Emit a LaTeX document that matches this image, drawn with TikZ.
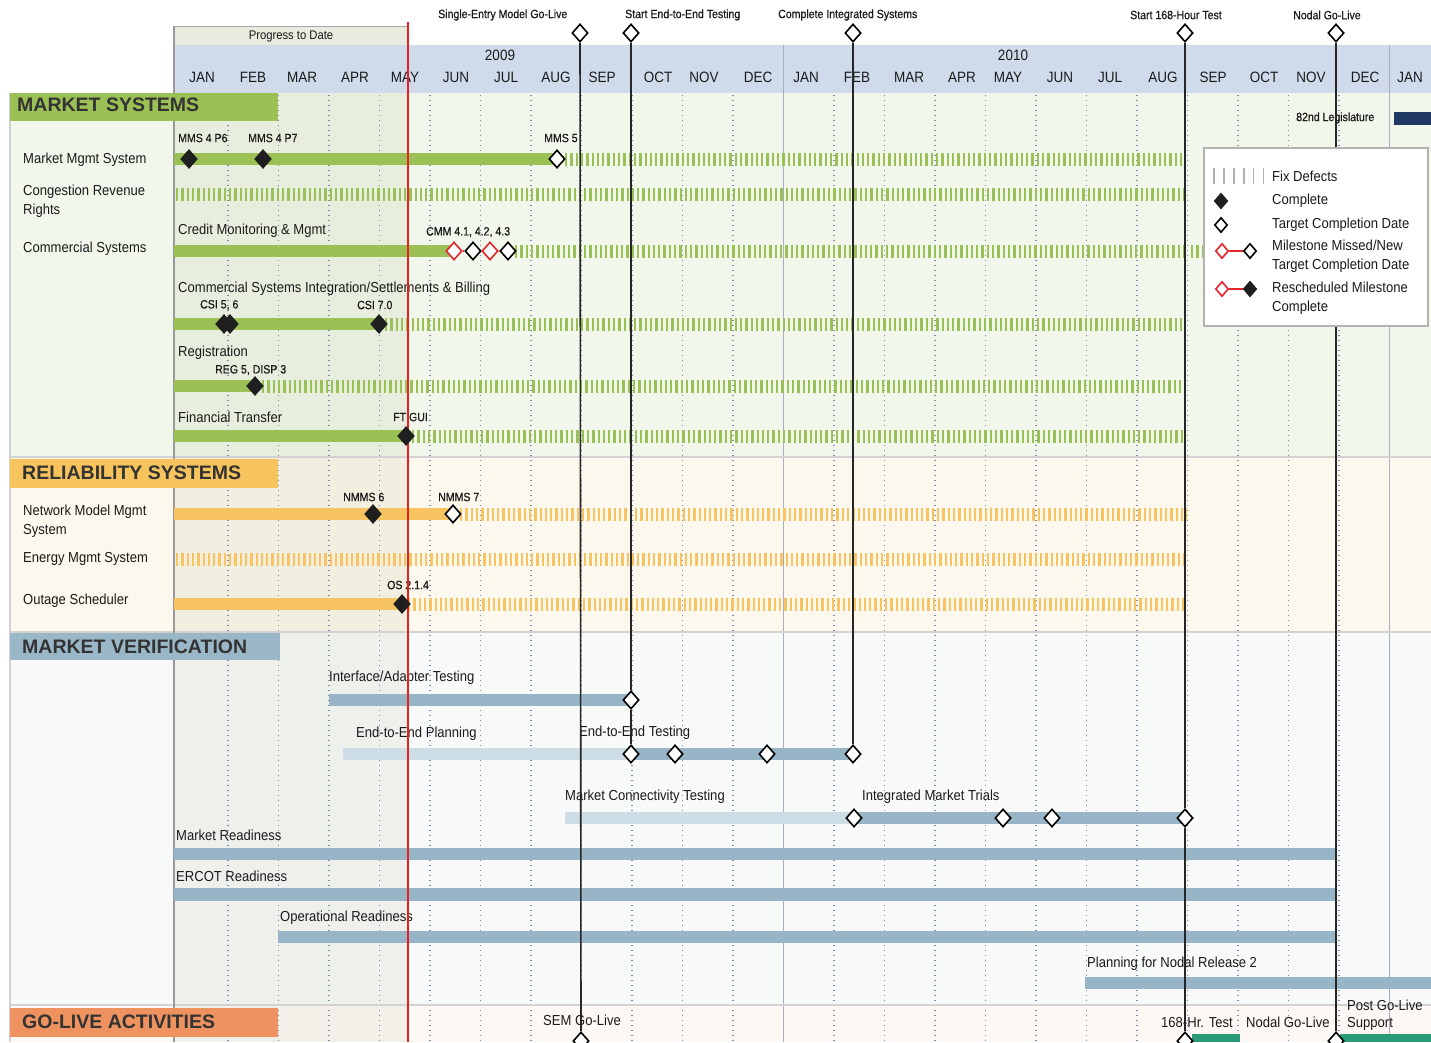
\documentclass[tikz,border=0pt]{standalone}
\usepackage{fontspec}
\setmainfont{Liberation Sans}[FakeStretch=0.9]
\newfontfamily\secfont{Liberation Sans}
\newfontfamily\milfont{Liberation Sans}[FakeStretch=0.88,FakeBold=0.6]
\usetikzlibrary{shapes.geometric}
\newcommand{\myfs}[1]{\fontsize{#1}{#1}\selectfont}
\definecolor{msgreen}{HTML}{9BC156}
\definecolor{msbg}{HTML}{F2F7EC}
\definecolor{msprog}{HTML}{E8EEDD}
\definecolor{rsyel}{HTML}{F8C462}
\definecolor{rshead}{HTML}{F6C35C}
\definecolor{rsbg}{HTML}{FDF8EE}
\definecolor{rsprog}{HTML}{F3EFE0}
\definecolor{mvbar}{HTML}{97B5C6}
\definecolor{mvlight}{HTML}{CCDDE6}
\definecolor{mvhead}{HTML}{9AB7C8}
\definecolor{mvbg}{HTML}{F8FAFA}
\definecolor{mvprog}{HTML}{EEF0EC}
\definecolor{glhead}{HTML}{EE925F}
\definecolor{glbg}{HTML}{FDF8F4}
\definecolor{glprog}{HTML}{F3F0EA}
\definecolor{golteal}{HTML}{2A9A78}
\definecolor{legnavy}{HTML}{1F3864}
\definecolor{hdrblue}{HTML}{CFDBEA}
\definecolor{progbox}{HTML}{E9EBDF}
\definecolor{gridc}{HTML}{7D8AAD}
\definecolor{txt}{HTML}{1A1A1A}
\definecolor{sectxt}{HTML}{333333}
\definecolor{sepc}{HTML}{D2D2D2}
\definecolor{yearln}{HTML}{A8AFC0}
\definecolor{progred}{HTML}{E8201E}
\definecolor{missred}{HTML}{E4262A}
\begin{document}
\begin{tikzpicture}[x=1pt,y=-1pt,
  lab/.style={anchor=west,inner sep=0pt,text=txt,font=\myfs{14.5}},
  mil/.style={anchor=west,inner sep=0pt,text=txt,font=\milfont\myfs{12}},
  toplab/.style={anchor=west,inner sep=0pt,text=txt,font=\myfs{12.5}},
  mon/.style={inner sep=0pt,text=txt,font=\myfs{15}},
  sec/.style={anchor=west,inner sep=0pt,text=sectxt,font=\secfont\bfseries\myfs{19.5}},
  dia/.style={diamond,draw=black,line width=1.6pt,fill=white,minimum width=16pt,minimum height=18pt,inner sep=0pt},
  fdia/.style={dia,fill=black!88,draw=black!88},
  rdia/.style={dia,draw=missred},
  ldia/.style={dia,minimum width=13pt,minimum height=15pt},
  mline/.style={draw=black!85,line width=1.6pt},
  hatchG/.style={draw=msgreen,line width=13pt,dash pattern=on 2.3pt off 3pt},
  hatchY/.style={draw=rsyel,line width=13pt,dash pattern=on 2.3pt off 3pt},
  grid/.style={draw=gridc,line width=1.4pt,dash pattern=on 1.4pt off 3.6pt},
  missline/.style={draw=missred,line width=2.2pt}]
\useasboundingbox (0,0) rectangle (1431,1042);
\clip (0,0) rectangle (1431,1042);
\fill[white] (0,0) rectangle (1431,1042);
% ---------- section backgrounds
\fill[msbg] (10,93) rectangle (1431,457);
\fill[msprog] (174,93) rectangle (408,457);
\fill[rsbg] (10,457) rectangle (1431,632);
\fill[rsprog] (174,457) rectangle (408,632);
\fill[mvbg] (10,632) rectangle (1431,1005);
\fill[mvprog] (174,632) rectangle (408,1005);
\fill[glbg] (10,1005) rectangle (1431,1042);
\fill[glprog] (174,1005) rectangle (408,1042);
% ---------- header
\fill[progbox] (174,26) rectangle (408,45);
\fill[hdrblue] (174,45) rectangle (1431,93);
\draw[black!35,line width=1pt] (174,26) -- (408,26);
\node[toplab,anchor=center] (ptd) at (291,36) {Progress to Date};
\node[mon] (y09) at (500,55) {2009};
\node[mon] (y10) at (1013,55) {2010};
\foreach \m/\x [count=\i] in {JAN/202,FEB/253,MAR/302,APR/355,MAY/405,JUN/456,JUL/506,AUG/556,SEP/602,OCT/658,NOV/704,DEC/758,JAN/806,FEB/857,MAR/909,APR/962,MAY/1008,JUN/1060,JUL/1110,AUG/1163,SEP/1213,OCT/1264,NOV/1311,DEC/1365,JAN/1410}
  \node[mon] (mon\i) at (\x,77) {\m};
% ---------- grid
\foreach \k in {1,...,11,13,14,...,23}
  \draw[grid] ({177.5+50.5*\k},95) -- ({177.5+50.5*\k},1042);
\foreach \k in {12,24}
  \draw[yearln,line width=1.3pt] ({177.5+50.5*\k},45) -- ({177.5+50.5*\k},1042);
% ---------- separators and borders
\foreach \yy in {457,632,1005}
  \draw[sepc,line width=1.6pt] (10,\yy) -- (1431,\yy);
\draw[sepc,line width=1.6pt] (10,93) -- (10,1042);
\draw[black!40,line width=1.4pt] (174,26) -- (174,1042);
% ---------- section headers
\fill[msgreen] (10,93) rectangle (278,121);
\node[sec] (hMS) at (17,105) {MARKET SYSTEMS};
\fill[rshead] (10,459) rectangle (278,488);
\node[sec] (hRS) at (22,473) {RELIABILITY SYSTEMS};
\fill[mvhead] (10,633) rectangle (280,660);
\node[sec] (hMV) at (22,647) {MARKET VERIFICATION};
\fill[glhead] (10,1008) rectangle (278,1037);
\node[sec] (hGL) at (22,1022) {GO-LIVE ACTIVITIES};
% ---------- row labels (left column)
\node[lab] (lMMS) at (23,160) {Market Mgmt System};
\node[lab,align=left] (lCRR) at (23,201) {Congestion Revenue\\[4pt]Rights};
\node[lab] (lCS) at (23,249) {Commercial Systems};
\node[lab,align=left] (lNMMS) at (23,521) {Network Model Mgmt\\[4pt]System};
\node[lab] (lEMS) at (23,559) {Energy Mgmt System};
\node[lab] (lOS) at (23,601) {Outage Scheduler};
% ---------- Market systems bars
\fill[msgreen] (174,153) rectangle (557,165);
\draw[hatchG] (565,159) -- (1185,159);
\draw[hatchG] (176,194) -- (1185,194);
\fill[msgreen] (174,245) rectangle (454,257);
\draw[hatchG] (515,251) -- (1185,251);
\draw[hatchG] (1191,251) -- (1202,251);
\fill[msgreen] (174,318) rectangle (379,330);
\draw[hatchG] (385,324) -- (1185,324);
\fill[msgreen] (174,380) rectangle (255,392);
\draw[hatchG] (262,386) -- (1185,386);
\fill[msgreen] (174,430) rectangle (406,442);
\draw[hatchG] (412,436) -- (1185,436);
% ---------- Reliability bars
\fill[rsyel] (174,508) rectangle (453,520);
\draw[hatchY] (460,514) -- (1187,514);
\draw[hatchY] (176,559) -- (1187,559);
\fill[rsyel] (174,598) rectangle (402,610);
\draw[hatchY] (408,604) -- (1187,604);
% ---------- Market verification bars
\fill[mvbar] (329,694) rectangle (631,706);
\fill[mvlight] (343,748) rectangle (631,760);
\fill[mvbar] (631,748) rectangle (853,760);
\fill[mvlight] (565,812) rectangle (853,824);
\fill[mvbar] (853,812) rectangle (1185,824);
\fill[mvbar] (174,848) rectangle (1336,860);
\fill[mvbar] (174,888) rectangle (1336,901);
\fill[mvbar] (278,931) rectangle (1336,943);
\fill[mvbar] (1085,977) rectangle (1431,989);
% ---------- Go-live bars
\fill[golteal] (1192,1034) rectangle (1240,1042);
\fill[golteal] (1340,1034) rectangle (1431,1042);
% ---------- 82nd legislature
\node[mil] (leg) at (1296,118) {82nd Legislature};
\fill[legnavy] (1394,112) rectangle (1431,125);
% ---------- bar titles and milestone labels
\node[mil] (tP6) at (178,138) {MMS 4 P6};
\node[mil] (tP7) at (248,138) {MMS 4 P7};
\node[mil] (tM5) at (544,138) {MMS 5};
\node[lab] (tCMg) at (178,231) {Credit Monitoring \& Mgmt};
\node[mil] (tCMM) at (426,232) {CMM 4.1, 4.2, 4.3};
\node[lab] (tCSI) at (178,289) {Commercial Systems Integration/Settlements \& Billing};
\node[mil] (tC56) at (200,305) {CSI 5, 6};
\node[mil] (tC7) at (357,305) {CSI 7.0};
\node[lab] (tReg) at (178,353) {Registration};
\node[mil] (tR5) at (215,370) {REG 5, DISP 3};
\node[lab] (tFT) at (178,417) {Financial Transfer};
\node[mil] (tFG) at (393,417) {FT GUI};
\node[mil] (tN6) at (343,497) {NMMS 6};
\node[mil] (tN7) at (438,497) {NMMS 7};
\node[mil] (tOS) at (387,585) {OS 2.1.4};
\node[lab] (tIA) at (329,678) {Interface/Adapter Testing};
\node[lab] (tEP) at (356,734) {End-to-End Planning};
\node[lab] (tET) at (579,733) {End-to-End Testing};
\node[lab] (tMC) at (565,797) {Market Connectivity Testing};
\node[lab] (tIM) at (862,797) {Integrated Market Trials};
\node[lab] (tMR) at (176,835) {Market Readiness};
\node[lab] (tER) at (176,876) {ERCOT Readiness};
\node[lab] (tOR) at (280,918) {Operational Readiness};
\node[lab] (tPN) at (1087,964) {Planning for Nodal Release 2};
\node[lab] (tSG) at (543,1020) {SEM Go-Live};
\node[lab] (t168) at (1161,1022) {168-Hr. Test};
\node[lab] (tNG) at (1246,1022) {Nodal Go-Live};
\node[lab,align=left] (tPG) at (1347,1015) {Post Go-Live\\[3pt]Support};
% ---------- top milestone labels
\node[mil] (lSEM) at (438,15) {Single-Entry Model Go-Live};
\node[mil] (lE2E) at (625,15) {Start End-to-End Testing};
\node[mil] (lCIS) at (778,15) {Complete Integrated Systems};
\node[mil] (l168) at (1130,15) {Start 168-Hour Test};
\node[mil] (lNGL) at (1293,15) {Nodal Go-Live};
% ---------- progress line
\draw[progred,line width=1.6pt] (408,22) -- (408,1042);
% ---------- milestone diamonds
\node[fdia] (dP6) at (189,159) {};
\node[fdia] (dP7) at (263,159) {};
\node[dia] (dM5) at (557,159) {};
\node[rdia] (dC1) at (454,251) {};
\node[dia] (dC2) at (473,251) {};
\node[rdia] (dC3) at (490,251) {};
\node[dia] (dC4) at (508,251) {};
\draw[missline] (dC1) -- (dC2);
\draw[missline] (dC3) -- (dC4);
\node[fdia] (dC5) at (224,324) {};
\node[fdia] (dC6) at (230,324) {};
\node[fdia] (dC7) at (379,324) {};
\node[fdia] (dR5) at (255,386) {};
\node[fdia] (dFG) at (406,436) {};
\node[fdia] (dN6) at (373,514) {};
\node[dia] (dN7) at (453,514) {};
\node[fdia] (dOS) at (402,604) {};
\node[dia] (dIA) at (631,700) {};
\node[dia] (dE1) at (631,754) {};
\node[dia] (dE2) at (675,754) {};
\node[dia] (dE3) at (767,754) {};
\node[dia] (dE4) at (853,754) {};
\node[dia] (dI1) at (854,818) {};
\node[dia] (dI2) at (1003,818) {};
\node[dia] (dI3) at (1052,818) {};
\node[dia] (dI4) at (1185,818) {};
\node[dia] (gSEM) at (581,1041) {};
\node[dia] (g168) at (1185,1041) {};
\node[dia] (gNGL) at (1336,1041) {};
% top diamonds
\node[dia] (mSEM) at (580,33) {};
\node[dia] (mE2E) at (631,33) {};
\node[dia] (mCIS) at (853,33) {};
\node[dia] (m168) at (1185,33) {};
\node[dia] (mNGL) at (1336,33) {};
% ---------- milestone lines
\draw[mline] (mSEM) -- (gSEM);
\draw[mline] (mE2E) -- (dIA);
\draw[mline] (dIA) -- (dE1);
\draw[mline] (mCIS) -- (dE4);
\draw[mline] (m168) -- (dI4);
\draw[mline] (dI4) -- (g168);
\draw[mline] (mNGL) -- (gNGL);
% ---------- legend
\draw[fill=white,draw=black!30,line width=1.5pt] (1204,148) rectangle (1428,326);
\draw[draw=black!30,line width=16pt,dash pattern=on 1.8pt off 8.1pt] (1213,176) -- (1264,176);
\node[lab] (kFD) at (1272,176) {Fix Defects};
\node[fdia,minimum width=13pt,minimum height=15pt] (kC) at (1221,201) {};
\node[lab] (kCt) at (1272,201) {Complete};
\node[ldia] (kT) at (1221,225) {};
\node[lab] (kTt) at (1272,225) {Target Completion Date};
\node[ldia,draw=missred] (kM1) at (1222,251) {};
\node[ldia] (kM2) at (1250,251) {};
\draw[missline] (kM1) -- (kM2);
\node[lab,align=left] (kMt) at (1272,256) {Milestone Missed/New\\[4pt]Target Completion Date};
\node[ldia,draw=missred] (kR1) at (1222,289) {};
\node[fdia,minimum width=13pt,minimum height=15pt] (kR2) at (1250,289) {};
\draw[missline] (kR1) -- (kR2);
\node[lab,align=left] (kRt) at (1272,298) {Rescheduled Milestone\\[4pt]Complete};
\end{tikzpicture}
\end{document}
